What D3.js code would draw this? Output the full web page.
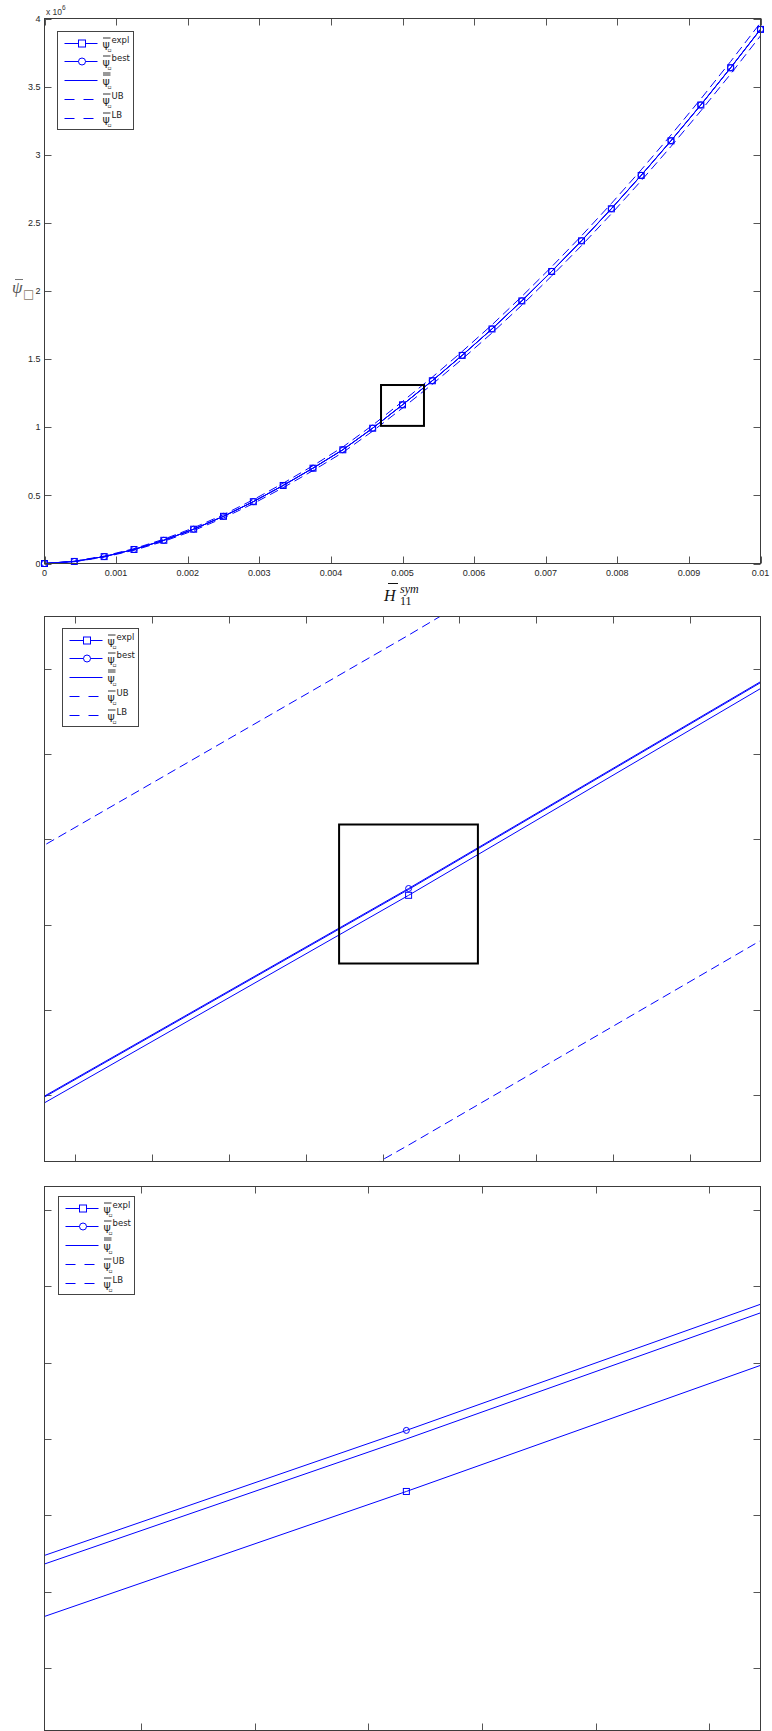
<!DOCTYPE html>
<html>
<head>
<meta charset="utf-8">
<style>
  body { margin: 0; background: #fff; }
  svg { display: block; font-family: "Liberation Sans", Arial, sans-serif; }
  .tick-label { font-size: 9px; fill: #262626; }
  .legend-text { font-family: "DejaVu Sans", sans-serif; fill: #222; }
</style>
</head>
<body>
<svg width="772" height="1731"></svg>

<script src="https://d3js.org/d3.v7.min.js"></script>
<script>
// ---- data ----
const xVals = [0, 0.0004167, 0.0008333, 0.00125, 0.0016667, 0.0020833, 0.0025, 0.0029167,
  0.0033333, 0.00375, 0.0041667, 0.0045833, 0.005, 0.0054167, 0.0058333, 0.00625,
  0.0066667, 0.0070833, 0.0075, 0.0079167, 0.0083333, 0.00875, 0.0091667, 0.0095833, 0.01];

const psiExpl = [0, 15054, 50608, 102862, 170317, 251771, 346225, 453679, 572633, 699588,
  834542, 992896, 1164450, 1341304, 1527359, 1721313, 1927267, 2143221, 2368175, 2603130,
  2848084, 3102038, 3364992, 3637946, 3919901];

const psiBest = [0, 15108, 50715, 103023, 170530, 252038, 346545, 454053, 573060, 700068,
  835075, 993483, 1165090, 1341998, 1528105, 1722113, 1928120, 2144128, 2369135, 2604143,
  2849150, 3103158, 3366165, 3639173, 3921180];

const psiBar = [0, 15100, 50700, 103000, 170500, 252000, 346500, 454000, 573000, 700000,
  835000, 993400, 1165000, 1341900, 1528000, 1722000, 1928000, 2144000, 2369000, 2604000,
  2849000, 3103000, 3366000, 3639000, 3921000];

const psiUB = [0, 17090, 54680, 108970, 178460, 261950, 358440, 467930, 588920, 717910,
  854900, 1015290, 1188880, 1367770, 1555860, 1751850, 1959840, 2177830, 2404820, 2641810,
  2888800, 3144790, 3409780, 3684770, 3968760];

const psiLB = [0, 13100, 46700, 97000, 162500, 242000, 334500, 440000, 557000, 682000,
  815000, 971400, 1141000, 1315900, 1500000, 1692000, 1896000, 2110000, 2333000, 2566000,
  2809000, 3061000, 3322000, 3593000, 3873000];

const legendSup = ["expl", "best", "", "UB", "LB"];

// main view ticks
const xTicksMain = [0, 0.001, 0.002, 0.003, 0.004, 0.005, 0.006, 0.007, 0.008, 0.009, 0.01];
const xTickLabelsMain = ["0", "0.001", "0.002", "0.003", "0.004", "0.005", "0.006", "0.007", "0.008", "0.009", "0.01"];
const yTicksMain = [0, 500000, 1000000, 1500000, 2000000, 2500000, 3000000, 3500000, 4000000];
const yTickLabelsMain = ["0", "0.5", "1", "1.5", "2", "2.5", "3", "3.5", "4"];

// first zoom
const zoomAX = [0.004952677, 0.005045737];
const zoomAY = [1139456, 1190630];
const zoomAXTicks = [0.00495661, 0.00496661, 0.00497661, 0.00498661, 0.00499661,
  0.00500661, 0.00501661, 0.00502661, 0.00503661];
const zoomAYTicks = [1145700, 1153700, 1161700, 1169700, 1177700, 1185700];

// second zoom
const zoomBX = [0.0049968186, 0.0050031136];
const zoomBY = [1161945, 1167646];
const zoomBXTicks = [0.004997665, 0.004998665, 0.004999665, 0.005000665, 0.005001665, 0.005002665];
const zoomBYTicks = [1162600, 1163400, 1164200, 1165000, 1165800, 1166600, 1167400];

// zoom rectangles [x0, x1, y0, y1]
const boxMain = [0.0047, 0.0053, 1010000, 1310000];
const boxZoomA = [0.004990965, 0.005009007, 1158047, 1171099];

// ---- drawing ----
const blue = "#0000ff";
const axisColor = "#3c3c3c";
const tickLen = 7;
const left = 44.5, right = 760.5;

const series = [
  { values: psiExpl, dash: null, marker: "square" },
  { values: psiBest, dash: null, marker: "circle" },
  { values: psiBar, dash: null, marker: null },
  { values: psiUB, dash: "9,5", marker: null },
  { values: psiLB, dash: "9,5", marker: null }
];

const panels = [
  { top: 18.5, bottom: 563.5, xDomain: [0, 0.01], yDomain: [0, 4000000],
    xTicks: xTicksMain, xLabels: xTickLabelsMain, yTicks: yTicksMain, yLabels: yTickLabelsMain,
    box: boxMain, legend: [57, 31] },
  { top: 616.5, bottom: 1161.5, xDomain: zoomAX, yDomain: zoomAY,
    xTicks: zoomAXTicks, yTicks: zoomAYTicks, box: boxZoomA, legend: [62, 628] },
  { top: 1186.5, bottom: 1730.5, xDomain: zoomBX, yDomain: zoomBY,
    xTicks: zoomBXTicks, yTicks: zoomBYTicks, box: null, legend: [58, 1196] }
];

const svg = d3.select("svg");

panels.forEach((p, i) => {
  let x = d3.scaleLinear().domain(p.xDomain).range([left, right]);
  let y = d3.scaleLinear().domain(p.yDomain).range([p.bottom, p.top]);

  let g = svg.append("g");

  g.append("clipPath").attr("id", "clip" + i)
    .append("rect")
    .attr("x", left).attr("y", p.top)
    .attr("width", right - left).attr("height", p.bottom - p.top);

  // ticks on all four sides, pointing in
  let tickG = g.append("g").attr("stroke", "#555").attr("stroke-width", 1);
  p.xTicks.forEach(t => {
    let px = Math.round(x(t)) + 0.5;
    tickG.append("line").attr("x1", px).attr("x2", px).attr("y1", p.bottom).attr("y2", p.bottom - tickLen);
    tickG.append("line").attr("x1", px).attr("x2", px).attr("y1", p.top).attr("y2", p.top + tickLen);
  });
  p.yTicks.forEach(t => {
    let py = Math.round(y(t)) + 0.5;
    tickG.append("line").attr("x1", left).attr("x2", left + tickLen).attr("y1", py).attr("y2", py);
    tickG.append("line").attr("x1", right).attr("x2", right - tickLen).attr("y1", py).attr("y2", py);
  });

  if (p.xLabels) {
    g.selectAll(".xl").data(p.xTicks).join("text")
      .attr("class", "tick-label")
      .attr("x", d => x(d)).attr("y", p.bottom + 12)
      .attr("text-anchor", "middle")
      .text((d, j) => p.xLabels[j]);
    g.selectAll(".yl").data(p.yTicks).join("text")
      .attr("class", "tick-label")
      .attr("x", left - 4).attr("y", d => y(d) + 3.2)
      .attr("text-anchor", "end")
      .text((d, j) => p.yLabels[j]);
  }

  // data lines
  let line = d3.line().x((d, j) => x(xVals[j])).y(d => y(d));
  let dataG = g.append("g");
  series.forEach(s => {
    dataG.append("path")
      .attr("clip-path", "url(#clip" + i + ")")
      .attr("d", line(s.values))
      .attr("fill", "none")
      .attr("stroke", blue)
      .attr("stroke-width", 1)
      .attr("stroke-dasharray", s.dash);
  });

  // markers (only those inside the view)
  series.filter(s => s.marker).forEach(s => {
    let pts = s.values.map((v, j) => [xVals[j], v])
      .filter(d => d[0] >= p.xDomain[0] && d[0] <= p.xDomain[1] && d[1] >= p.yDomain[0] && d[1] <= p.yDomain[1]);
    if (s.marker === "square") {
      dataG.selectAll(null).data(pts).join("rect")
        .attr("x", d => x(d[0]) - 3).attr("y", d => y(d[1]) - 3)
        .attr("width", 6).attr("height", 6)
        .attr("fill", "none").attr("stroke", blue);
    } else {
      dataG.selectAll(null).data(pts).join("circle")
        .attr("cx", d => x(d[0])).attr("cy", d => y(d[1])).attr("r", 3)
        .attr("fill", "none").attr("stroke", blue);
    }
  });

  // zoom rectangle
  if (p.box) {
    g.append("rect")
      .attr("x", x(p.box[0])).attr("y", y(p.box[3]))
      .attr("width", x(p.box[1]) - x(p.box[0]))
      .attr("height", y(p.box[2]) - y(p.box[3]))
      .attr("fill", "none").attr("stroke", "#000").attr("stroke-width", 2);
  }

  // axes box
  g.append("rect")
    .attr("x", left).attr("y", p.top)
    .attr("width", right - left).attr("height", p.bottom - p.top)
    .attr("fill", "none").attr("stroke", axisColor);

  // legend
  let lx = p.legend[0] + 0.5, ly = p.legend[1] + 0.5;
  let lg = g.append("g");
  lg.append("rect").attr("x", lx).attr("y", ly).attr("width", 76).attr("height", 98)
    .attr("fill", "#fff").attr("stroke", "#444");
  series.forEach((s, j) => {
    let ry = Math.round(ly + 11 + j * 18.9) + 0.5;
    lg.append("line").attr("x1", lx + 7).attr("x2", lx + 40).attr("y1", ry).attr("y2", ry)
      .attr("stroke", blue).attr("stroke-dasharray", s.dash ? "10,9" : null);
    if (s.marker === "square") {
      lg.append("rect").attr("x", lx + 21).attr("y", ry - 3.5).attr("width", 7).attr("height", 7)
        .attr("fill", "#fff").attr("stroke", blue);
    } else if (s.marker === "circle") {
      lg.append("circle").attr("cx", lx + 24.5).attr("cy", ry).attr("r", 3.5)
        .attr("fill", "#fff").attr("stroke", blue);
    }
    let tx = lx + 45;
    lg.append("text").attr("class", "legend-text").attr("x", tx).attr("y", ry + 4.5)
      .attr("font-size", 11).text("ψ");
    lg.append("line").attr("x1", tx + 0.5).attr("x2", tx + 8).attr("y1", ry - 5.5).attr("y2", ry - 5.5)
      .attr("stroke", "#333");
    if (legendSup[j] === "") {
      lg.append("line").attr("x1", tx + 0.5).attr("x2", tx + 8).attr("y1", ry - 7.5).attr("y2", ry - 7.5)
        .attr("stroke", "#333");
    }
    lg.append("text").attr("class", "legend-text").attr("x", tx + 5).attr("y", ry + 8.5)
      .attr("font-size", 6).text("▫");
    lg.append("text").attr("class", "legend-text").attr("x", tx + 9).attr("y", ry - 0.5)
      .attr("font-size", 8.5).text(legendSup[j]);
  });
});

// multiplier at the top of the main y axis
let mult = svg.append("text").attr("x", 46).attr("y", 14.5)
  .attr("font-size", 8.5).attr("fill", "#333");
mult.append("tspan").text("x 10");
mult.append("tspan").attr("dy", -4.5).attr("font-size", 6.5).text("6");

// y axis label of main view
let yl = svg.append("g");
yl.append("text").attr("x", 12).attr("y", 293)
  .attr("font-family", "Liberation Serif, serif").attr("font-style", "italic")
  .attr("font-size", 17).attr("fill", "#555").text("ψ");
yl.append("line").attr("x1", 15).attr("x2", 23).attr("y1", 279.5).attr("y2", 279.5)
  .attr("stroke", "#777");
yl.append("text").attr("x", 23).attr("y", 297.5)
  .attr("font-family", "DejaVu Sans, sans-serif").attr("font-size", 12).attr("fill", "#8a7a6a").text("□");

// x axis label of main view
let xl = svg.append("g").attr("font-family", "Liberation Serif, serif").attr("fill", "#111");
xl.append("text").attr("x", 384).attr("y", 601).attr("font-style", "italic").attr("font-size", 16).text("H");
xl.append("line").attr("x1", 388).attr("x2", 398).attr("y1", 583.5).attr("y2", 583.5)
  .attr("stroke", "#111").attr("stroke-width", 1);
xl.append("text").attr("x", 400).attr("y", 593).attr("font-style", "italic").attr("font-size", 12).text("sym");
xl.append("text").attr("x", 400).attr("y", 605).attr("font-size", 12).text("11");
</script>
</body>
</html>
